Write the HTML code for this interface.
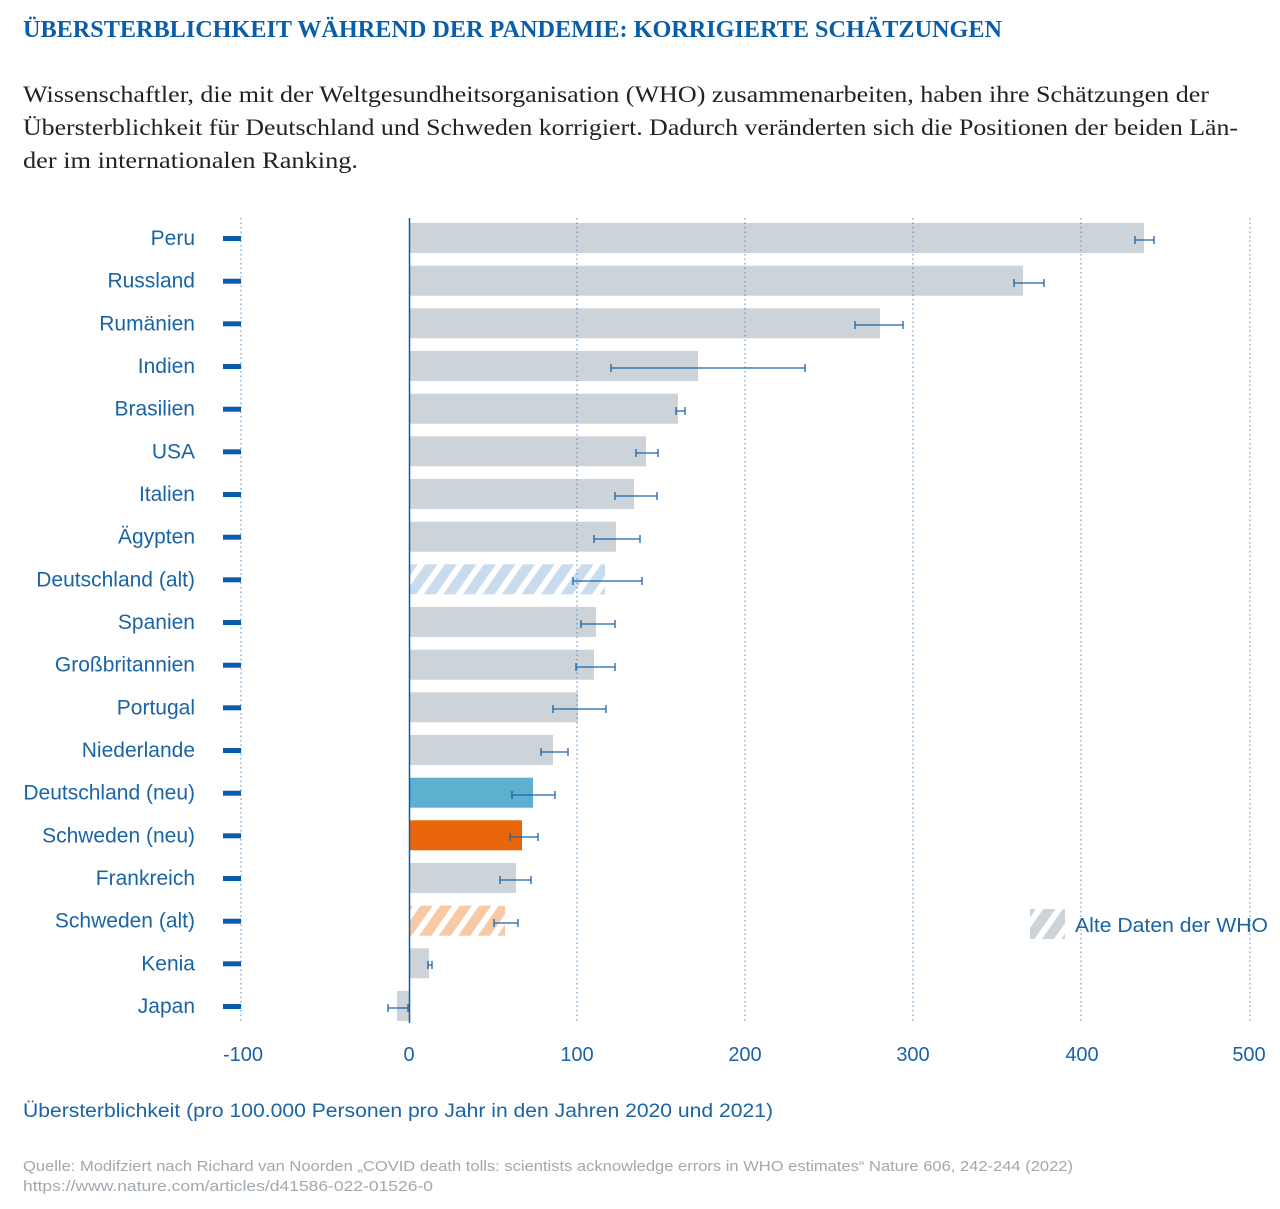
<!DOCTYPE html>
<html><head><meta charset="utf-8"><style>html,body{margin:0;padding:0;background:#fff}svg{display:block}</style></head>
<body>
<svg width="1280" height="1209" viewBox="0 0 1280 1209" xmlns="http://www.w3.org/2000/svg">
<defs>
<pattern id="hb" patternUnits="userSpaceOnUse" width="16" height="16" patternTransform="rotate(35)">
<rect width="16" height="16" fill="#fff"/><rect width="10" height="16" fill="#c9dced"/></pattern>
<pattern id="ho" patternUnits="userSpaceOnUse" width="16" height="16" patternTransform="rotate(35)">
<rect width="16" height="16" fill="#fff"/><rect width="10" height="16" fill="#f8c9a5"/></pattern>
<pattern id="hg" patternUnits="userSpaceOnUse" width="16" height="16" patternTransform="rotate(35)">
<rect width="16" height="16" fill="#fff"/><rect width="10" height="16" fill="#ccd3d9"/></pattern>
</defs>
<text x="23" y="37" font-family="Liberation Serif, serif" font-weight="bold" font-size="24" fill="#0a5ea8" textLength="979" lengthAdjust="spacingAndGlyphs">ÜBERSTERBLICHKEIT WÄHREND DER PANDEMIE: KORRIGIERTE SCHÄTZUNGEN</text>
<g font-family="Liberation Serif, serif" font-size="23" fill="#222">
<text x="23" y="102" textLength="1186" lengthAdjust="spacingAndGlyphs">Wissenschaftler, die mit der Weltgesundheitsorganisation (WHO) zusammenarbeiten, haben ihre Schätzungen der</text>
<text x="23" y="135" textLength="1215" lengthAdjust="spacingAndGlyphs">Übersterblichkeit für Deutschland und Schweden korrigiert. Dadurch veränderten sich die Positionen der beiden Län-</text>
<text x="23" y="168" textLength="335" lengthAdjust="spacingAndGlyphs">der im internationalen Ranking.</text>
</g>
<g>
<rect x="409" y="223" width="735" height="30" fill="#ccd3d9"/>
<rect x="409" y="265.7" width="614" height="30" fill="#ccd3d9"/>
<rect x="409" y="308.3" width="471" height="30" fill="#ccd3d9"/>
<rect x="409" y="351" width="289" height="30" fill="#ccd3d9"/>
<rect x="409" y="393.7" width="269" height="30" fill="#ccd3d9"/>
<rect x="409" y="436.3" width="237" height="30" fill="#ccd3d9"/>
<rect x="409" y="479" width="225" height="30" fill="#ccd3d9"/>
<rect x="409" y="521.7" width="207" height="30" fill="#ccd3d9"/>
<rect x="409" y="564.3" width="196" height="30" fill="url(#hb)"/>
<rect x="409" y="607" width="187" height="30" fill="#ccd3d9"/>
<rect x="409" y="649.7" width="185" height="30" fill="#ccd3d9"/>
<rect x="409" y="692.3" width="169" height="30" fill="#ccd3d9"/>
<rect x="409" y="735" width="144" height="30" fill="#ccd3d9"/>
<rect x="409" y="777.7" width="124" height="30" fill="#5eb0d0"/>
<rect x="409" y="820.3" width="113" height="30" fill="#e8650a"/>
<rect x="409" y="863" width="107" height="30" fill="#ccd3d9"/>
<rect x="409" y="905.7" width="96" height="30" fill="url(#ho)"/>
<rect x="409" y="948.3" width="20" height="30" fill="#ccd3d9"/>
<rect x="397" y="991" width="12" height="30" fill="#ccd3d9"/>
</g>
<g stroke="#4a8cc4" stroke-width="1" stroke-dasharray="1.5,3">
<line x1="241" y1="218" x2="241" y2="1023"/><line x1="577" y1="218" x2="577" y2="1023"/>
<line x1="745" y1="218" x2="745" y2="1023"/><line x1="913" y1="218" x2="913" y2="1023"/>
<line x1="1081" y1="218" x2="1081" y2="1023"/><line x1="1250" y1="218" x2="1250" y2="1023"/>
</g>
<line x1="409.5" y1="218" x2="409.5" y2="1023" stroke="#0a5ea8" stroke-width="1.5"/>
<g stroke="#1a64a6" stroke-width="1.3" fill="none">
<path d="M1135 240H1154M1135 236v8M1154 236v8"/>
<path d="M1014 283H1044M1014 279v8M1044 279v8"/>
<path d="M855 325H903M855 321v8M903 321v8"/>
<path d="M611 368H805M611 364v8M805 364v8"/>
<path d="M676 411H685M676 407v8M685 407v8"/>
<path d="M636 453H658M636 449v8M658 449v8"/>
<path d="M615 496H657M615 492v8M657 492v8"/>
<path d="M594 539H640M594 535v8M640 535v8"/>
<path d="M573 581H642M573 577v8M642 577v8"/>
<path d="M581 624H615M581 620v8M615 620v8"/>
<path d="M576 667H615M576 663v8M615 663v8"/>
<path d="M553 709H606M553 705v8M606 705v8"/>
<path d="M541 752H568M541 748v8M568 748v8"/>
<path d="M512 795H555M512 791v8M555 791v8"/>
<path d="M510 837H538M510 833v8M538 833v8"/>
<path d="M500 880H531M500 876v8M531 876v8"/>
<path d="M494 923H518M494 919v8M518 919v8"/>
<path d="M428 965H432M428 961v8M432 961v8"/>
<path d="M388 1008H408M388 1004v8M408 1004v8"/>
</g>
<g font-family="Liberation Sans, sans-serif" font-size="21" fill="#1a64a6" text-anchor="end">
<text x="195" y="245">Peru</text><text x="195" y="287.7">Russland</text><text x="195" y="330.3">Rumänien</text>
<text x="195" y="373">Indien</text><text x="195" y="415.7">Brasilien</text><text x="195" y="458.3">USA</text>
<text x="195" y="501">Italien</text><text x="195" y="543.7">Ägypten</text><text x="195" y="586.3">Deutschland (alt)</text>
<text x="195" y="629">Spanien</text><text x="195" y="671.7">Großbritannien</text><text x="195" y="714.3">Portugal</text>
<text x="195" y="757">Niederlande</text><text x="195" y="799.7">Deutschland (neu)</text><text x="195" y="842.3">Schweden (neu)</text>
<text x="195" y="885">Frankreich</text><text x="195" y="927.7">Schweden (alt)</text><text x="195" y="970.3">Kenia</text>
<text x="195" y="1013">Japan</text>
</g>
<g fill="#0a5ea8">
<rect x="223" y="236" width="18" height="5"/><rect x="223" y="278.7" width="18" height="5"/><rect x="223" y="321.3" width="18" height="5"/>
<rect x="223" y="364" width="18" height="5"/><rect x="223" y="406.7" width="18" height="5"/><rect x="223" y="449.3" width="18" height="5"/>
<rect x="223" y="492" width="18" height="5"/><rect x="223" y="534.7" width="18" height="5"/><rect x="223" y="577.3" width="18" height="5"/>
<rect x="223" y="620" width="18" height="5"/><rect x="223" y="662.7" width="18" height="5"/><rect x="223" y="705.3" width="18" height="5"/>
<rect x="223" y="748" width="18" height="5"/><rect x="223" y="790.7" width="18" height="5"/><rect x="223" y="833.3" width="18" height="5"/>
<rect x="223" y="876" width="18" height="5"/><rect x="223" y="918.7" width="18" height="5"/><rect x="223" y="961.3" width="18" height="5"/>
<rect x="223" y="1004" width="18" height="5"/>
</g>
<g font-family="Liberation Sans, sans-serif" font-size="20" fill="#1a64a6" text-anchor="middle">
<text x="243" y="1061">-100</text><text x="409" y="1061">0</text><text x="577" y="1061">100</text>
<text x="745" y="1061">200</text><text x="913" y="1061">300</text><text x="1082" y="1061">400</text><text x="1249" y="1061">500</text>
</g>
<rect x="1030" y="909" width="35" height="30" fill="url(#hg)"/>
<text x="1075" y="932" font-family="Liberation Sans, sans-serif" font-size="20" fill="#1a64a6" textLength="193" lengthAdjust="spacingAndGlyphs">Alte Daten der WHO</text>
<text x="23" y="1117" font-family="Liberation Sans, sans-serif" font-size="19" fill="#1a64a6" textLength="750" lengthAdjust="spacingAndGlyphs">Übersterblichkeit (pro 100.000 Personen pro Jahr in den Jahren 2020 und 2021)</text>
<g font-family="Liberation Sans, sans-serif" font-size="15" fill="#a0a8b0">
<text x="23" y="1171" textLength="1050" lengthAdjust="spacingAndGlyphs">Quelle: Modifziert nach Richard van Noorden „COVID death tolls: scientists acknowledge errors in WHO estimates“ Nature 606, 242-244 (2022)</text>
<text x="23" y="1191" textLength="410" lengthAdjust="spacingAndGlyphs">https://www.nature.com/articles/d41586-022-01526-0</text>
</g>
</svg>
</body></html>
